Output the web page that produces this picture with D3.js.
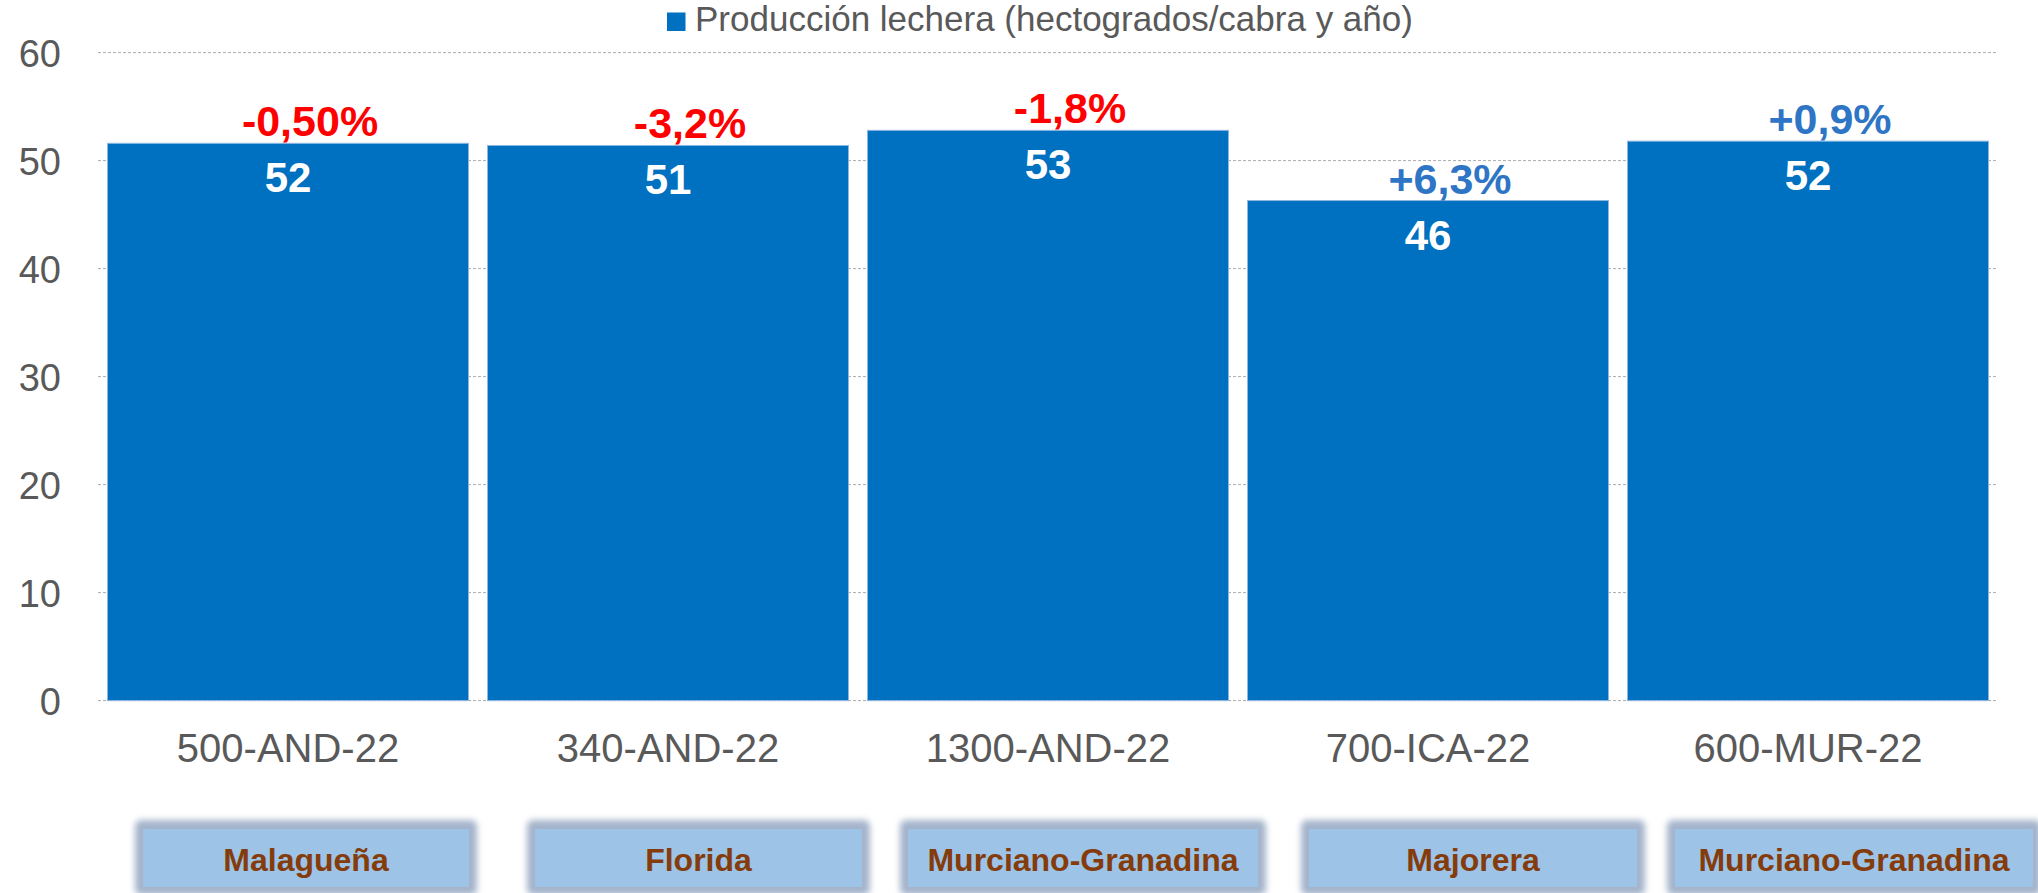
<!DOCTYPE html>
<html lang="es">
<head>
<meta charset="utf-8"/>
<title>Producción lechera</title>
<script src="https://d3js.org/d3.v7.min.js"></script>
<style>
  body { margin: 0; padding: 0; background: #fff; width: 2038px; height: 893px; overflow: hidden; }
  svg text { font-family: "Liberation Sans", Arial, sans-serif; }
</style>
</head>
<body>
<div id="chart"></div>
<script>
  // Data
  const categories = ["500-AND-22", "340-AND-22", "1300-AND-22", "700-ICA-22", "600-MUR-22"];
  const breeds = ["Malagueña", "Florida", "Murciano-Granadina", "Majorera", "Murciano-Granadina"];
  const production = [51.6, 51.4, 52.8, 46.3, 51.8];
  const changeLabels = ["-0,50%", "-3,2%", "-1,8%", "+6,3%", "+0,9%"];
  const yTicks = [0, 10, 20, 30, 40, 50, 60];
  const seriesName = "Producción lechera (hectogrados/cabra y año)";

  // Breed boxes sit under the axis, slightly off the bar centres
  const boxEdges = [[143, 469], [535, 862], [908, 1258], [1309, 1637], [1675, 2033]];

  const W = 2038, H = 893;
  const barColor = "#0070C0";
  const textGrey = "#595959";

  const svg = d3.select("#chart").append("svg")
      .attr("width", W)
      .attr("height", H);

  const x = d3.scaleBand()
      .domain(categories)
      .range([98, 1998])
      .paddingInner(0.05)
      .paddingOuter(0.025);

  const y = d3.scaleLinear()
      .domain([0, 60])
      .range([700.6, 52.6]);

  // gridlines (dashed)
  svg.append("g")
      .selectAll("line")
      .data(yTicks)
      .enter().append("line")
      .attr("x1", 98).attr("x2", 1998)
      .attr("y1", d => y(d)).attr("y2", d => y(d))
      .attr("stroke", "#ADADAD")
      .attr("stroke-width", 1)
      .attr("stroke-dasharray", "3,2");

  // y axis labels
  const yAxis = svg.append("g")
      .attr("transform", "translate(61,0)")
      .call(d3.axisLeft(y).tickValues(yTicks).tickSize(0).tickPadding(0));
  yAxis.select(".domain").remove();
  yAxis.selectAll("text")
      .attr("fill", textGrey)
      .style("font-size", "38px")
      .attr("dy", "0.36em");

  // x axis labels
  const xAxis = svg.append("g")
      .attr("transform", "translate(0,762)")
      .call(d3.axisBottom(x).tickSize(0).tickPadding(0));
  xAxis.select(".domain").remove();
  xAxis.selectAll("text")
      .attr("fill", textGrey)
      .attr("dy", 0)
      .attr("y", 0)
      .style("font-size", "40px");

  const rows = categories.map((c, i) => ({ cat: c, value: production[i], change: changeLabels[i] }));

  // bars
  svg.append("g")
      .selectAll("rect")
      .data(rows)
      .enter().append("rect")
      .attr("x", d => x(d.cat))
      .attr("y", d => y(d.value))
      .attr("width", x.bandwidth())
      .attr("height", d => y(0) - y(d.value))
      .attr("fill", barColor)
      .attr("stroke", "#8DB6E0")
      .attr("stroke-width", 1);

  // value labels inside bars
  svg.append("g")
      .selectAll("text")
      .data(rows)
      .enter().append("text")
      .attr("x", d => x(d.cat) + x.bandwidth() / 2)
      .attr("y", d => y(d.value) + 49)
      .attr("text-anchor", "middle")
      .attr("fill", "#fff")
      .style("font-size", "42px")
      .style("font-weight", "bold")
      .text(d => d3.format(".0f")(d.value));

  // change labels above bars
  svg.append("g")
      .selectAll("text")
      .data(rows)
      .enter().append("text")
      .attr("x", d => x(d.cat) + x.bandwidth() / 2 + 22)
      .attr("y", d => y(d.value) - 7)
      .attr("text-anchor", "middle")
      .attr("fill", d => d.change.startsWith("-") ? "#FF0000" : "#2E75C5")
      .style("font-size", "43px")
      .style("font-weight", "bold")
      .text(d => d.change);

  // legend
  const legend = svg.append("g");
  legend.append("rect")
      .attr("x", 667).attr("y", 12.5)
      .attr("width", 18.5).attr("height", 18.5)
      .attr("fill", barColor);
  legend.append("text")
      .attr("x", 695).attr("y", 30.7)
      .attr("fill", textGrey)
      .style("font-size", "35px")
      .text(seriesName);

  // breed boxes with a soft glow
  const defs = svg.append("defs");
  defs.append("filter")
      .attr("id", "glow")
      .attr("x", "-10%").attr("y", "-40%")
      .attr("width", "120%").attr("height", "180%")
      .append("feGaussianBlur")
      .attr("stdDeviation", 3);

  const boxTop = 829, boxBottom = 887;
  const boxes = svg.append("g")
      .selectAll("g")
      .data(breeds.map((b, i) => ({ name: b, x0: boxEdges[i][0], x1: boxEdges[i][1] })))
      .enter().append("g");

  boxes.append("rect")
      .attr("x", d => d.x0 - 8)
      .attr("y", boxTop - 9)
      .attr("width", d => d.x1 - d.x0 + 16)
      .attr("height", boxBottom - boxTop + 17)
      .attr("rx", 6)
      .attr("fill", "#A4B4CB")
      .attr("filter", "url(#glow)");

  boxes.append("rect")
      .attr("x", d => d.x0)
      .attr("y", boxTop)
      .attr("width", d => d.x1 - d.x0)
      .attr("height", boxBottom - boxTop)
      .attr("fill", "#9DC3E6");

  boxes.append("text")
      .attr("x", d => (d.x0 + d.x1) / 2)
      .attr("y", 871)
      .attr("text-anchor", "middle")
      .attr("fill", "#843C0C")
      .style("font-size", "32px")
      .style("font-weight", "bold")
      .text(d => d.name);
</script>
</body>
</html>
